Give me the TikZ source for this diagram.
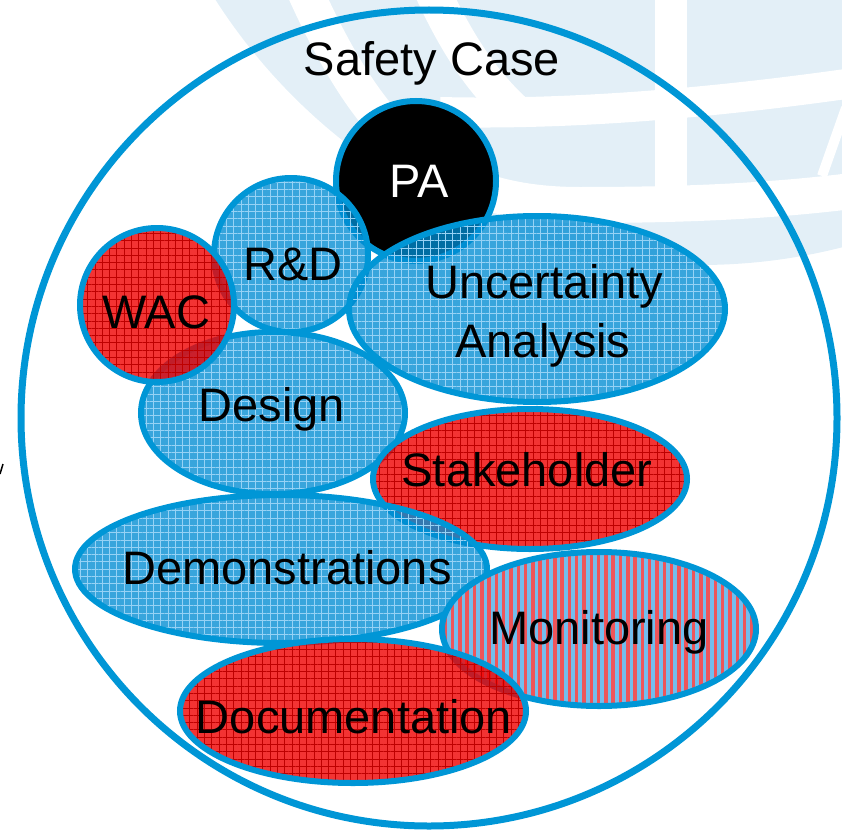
\documentclass[tikz,border=0pt]{standalone}
\usepackage{fontspec}
\setmainfont{Liberation Sans}
\usetikzlibrary{patterns.meta}
\definecolor{edge}{RGB}{0,150,214}
\definecolor{wm}{RGB}{227,239,247}
\definecolor{bfill}{RGB}{0,140,210}
\definecolor{rfill}{RGB}{240,0,0}
\definecolor{btex}{RGB}{150,210,245}
\definecolor{rtex}{RGB}{190,0,0}
\definecolor{mblue}{RGB}{115,190,238}
\definecolor{mred}{RGB}{238,85,90}
\newcommand\blueblob[1]{\path[bluefill] #1; \path[bluetex] #1; \draw[outline] #1;}
\newcommand\redblob[1]{\path[redfill] #1; \path[redtex] #1; \draw[outline] #1;}
\begin{document}
\begin{tikzpicture}[x=1pt,y=-1pt,
  outline/.style={draw=edge, line width=6pt},
  bluefill/.style={fill=bfill, fill opacity=0.78},
  redfill/.style={fill=rfill, fill opacity=0.8},
  bluetex/.style={pattern={Hatch[distance=7.3pt,angle=0,line width=0.8pt]}, pattern color=btex, fill opacity=0.4},
  redtex/.style={pattern={Hatch[distance=7.3pt,angle=0,line width=0.8pt]}, pattern color=rtex, fill opacity=0.4},
  lbl/.style={anchor=base, font=\fontsize{47}{56}\selectfont, text=black, inner sep=0pt},
]
\useasboundingbox (0,0) rectangle (842,832);
% watermark
\begin{scope}
\clip (0,0) rectangle (842,832);
\fill[wm] (700,-310) circle [radius=575pt];
\draw[white, line width=36pt] (300,-20) .. controls (370,140) and (440,205) .. (580,205) .. controls (700,205) and (780,200) .. (860,190);
\draw[white, line width=30pt] (440,112) .. controls (560,115) and (700,105) .. (860,82);
\draw[white, line width=36pt] (432,-10) .. controls (455,40) and (480,80) .. (515,112);
\draw[white, line width=32pt] (671,-5) -- (671,205);
\draw[white, line width=10pt] (846,108) -- (822,176);
\end{scope}
% fragment at left edge
\draw[line width=1.5pt] (0,474) -- (3,464);
% safety case circle
\draw[edge, line width=7pt] (429,418) circle [radius=408pt];
% PA
\path[fill=black] (416,181) circle [radius=80pt];
\draw[outline] (416,181) circle [radius=80pt];
% R&D
\blueblob{(291,255) circle [radius=77pt]}
% Design
\blueblob{(273,413) ellipse [x radius=132pt, y radius=81pt]}
% WAC
\redblob{(157,305) circle [radius=77pt]}
% Uncertainty
\blueblob{(537,309) ellipse [x radius=188pt, y radius=93pt]}
% Stakeholder
\redblob{(530,479) ellipse [x radius=157pt, y radius=70pt]}
% Demonstrations
\blueblob{(281,569) ellipse [x radius=206pt, y radius=74pt]}
% Monitoring
\path[fill=mblue] (599,629) ellipse [x radius=157pt, y radius=77pt];
\path[pattern={Lines[distance=7.3pt,angle=90,line width=3.5pt]}, pattern color=mred] (599,629) ellipse [x radius=157pt, y radius=77pt];
\draw[outline] (599,629) ellipse [x radius=157pt, y radius=77pt];
% Documentation
\redblob{(353,711) ellipse [x radius=173pt, y radius=72pt]}
% labels
\node[lbl] (sc) at (432,76) {Safety Case};
\node[lbl, text=white] (pa) at (419,197) {PA};
\node[lbl] (rd) at (293,280) {R\&D};
\node[lbl] (wac) at (156,328) {WAC};
\node[lbl] (unc1) at (544,298) {Uncertainty};
\node[lbl] (unc2) at (543,357) {Analysis};
\node[lbl] (des) at (272,421) {Design};
\node[lbl] (stk) at (527,486) {Stakeholder};
\node[lbl] (dem) at (287,584) {Demonstrations};
\node[lbl] (mon) at (599,644) {Monitoring};
\node[lbl] (doc) at (354,733) {Documentation};
\end{tikzpicture}
\end{document}
